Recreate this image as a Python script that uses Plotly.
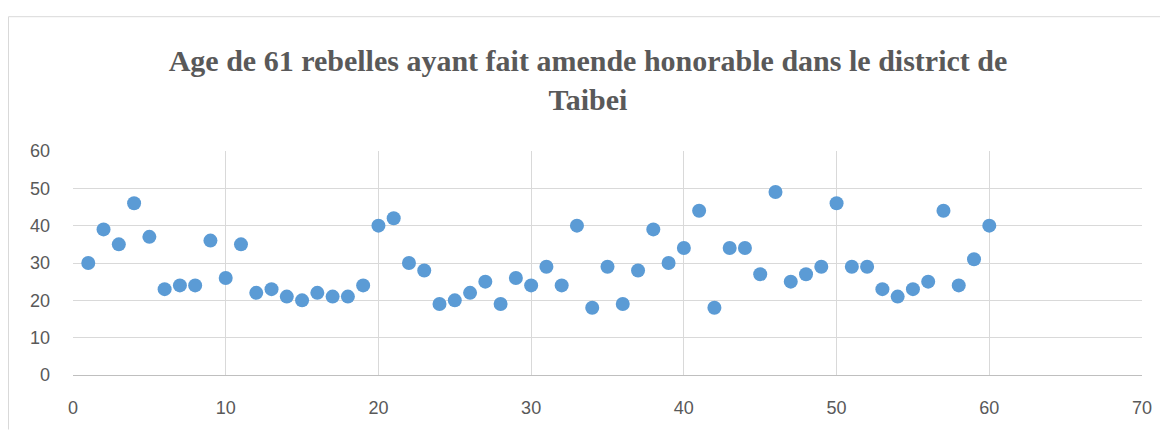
import plotly.graph_objects as go

index = list(range(1, 61))
ages = [30, 39, 35, 46, 37, 23, 24, 24, 36, 26,
        35, 22, 23, 21, 20, 22, 21, 21, 24, 40,
        42, 30, 28, 19, 20, 22, 25, 19, 26, 24,
        29, 24, 40, 18, 29, 19, 28, 39, 30, 34,
        44, 18, 34, 34, 27, 49, 25, 27, 29, 46,
        29, 29, 23, 21, 23, 25, 44, 24, 31, 40]

title = "<b>Age de 61 rebelles ayant fait amende honorable dans le district de<br>Taibei</b>"

# page body has an 8px margin
OFF = 8
W, H = 1160, 422
ml, mt = 73 - OFF, 151 - OFF
mr = W - (1142 - OFF)
mb = H - (377 - OFF)
pw, ph = W - ml - mr, H - mt - mb

def px_to_paper_x(px):
    return (px - OFF - ml) / pw

def px_to_paper_y(py):
    return (H - mb - (py - OFF)) / ph

fig = go.Figure(go.Scatter(
    x=index, y=ages, mode="markers",
    marker=dict(color="#5B9BD5", size=14, line=dict(width=0)),
    cliponaxis=False,
))

fig.update_layout(
    width=W, height=H,
    margin=dict(l=ml, r=mr, t=mt, b=mb),
    paper_bgcolor="white", plot_bgcolor="white",
    showlegend=False,
    title=dict(text=title, x=0.5, xanchor="center",
               y=1 - (71 - OFF) / H, yanchor="middle",
               font=dict(family="Liberation Serif", size=30, color="#595959")),
    xaxis=dict(range=[0, 70], dtick=10, tick0=0, showgrid=True, gridcolor="#D9D9D9",
               gridwidth=1, zeroline=False, showline=True, linecolor="#BFBFBF",
               ticks="", ticklabelstandoff=16,
               tickfont=dict(family="Liberation Sans", size=18, color="#595959")),
    yaxis=dict(range=[0, 60], dtick=10, tick0=0, showgrid=True, gridcolor="#D9D9D9",
               gridwidth=1, zeroline=False, showline=False, ticks="",
               ticklabelstandoff=22,
               tickfont=dict(family="Liberation Sans", size=18, color="#595959")),
    shapes=[
        dict(type="line", xref="paper", yref="paper",
             x0=px_to_paper_x(8.5), x1=px_to_paper_x(1170),
             y0=px_to_paper_y(15.5), y1=px_to_paper_y(15.5),
             line=dict(color="#D9D9D9", width=1)),
        dict(type="line", xref="paper", yref="paper",
             x0=px_to_paper_x(8.5), x1=px_to_paper_x(8.5),
             y0=px_to_paper_y(15.5), y1=px_to_paper_y(432),
             line=dict(color="#D9D9D9", width=1)),
    ],
)

fig.write_html("out.html")
